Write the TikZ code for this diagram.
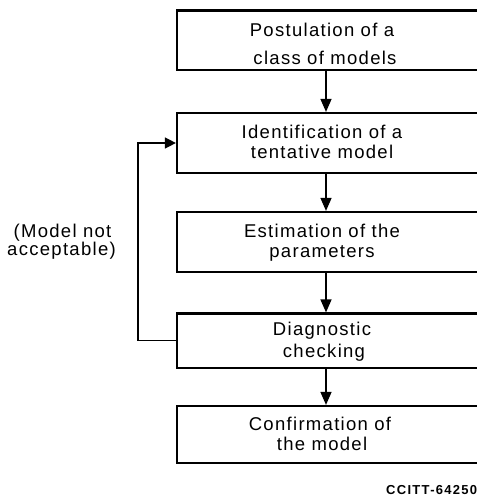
\documentclass[tikz,border=0pt]{standalone}
\usepackage{fontspec}
\setmainfont{Liberation Sans}[LetterSpace=7]
\newfontfamily\ccfont{Liberation Sans}[LetterSpace=10]
\usetikzlibrary{arrows.meta}
\begin{document}
\begin{tikzpicture}[x=1pt,y=-1pt,
  box/.style={draw, line width=2.2pt, minimum width=313pt, inner sep=0pt},
  lbl/.style={anchor=base, inner sep=0pt, font=\fontsize{18.5}{22}\selectfont},
  conn/.style={line width=1.4pt, -{Triangle[length=13pt,width=11pt]}}]
\useasboundingbox (0,0) rectangle (476,500);
% boxes
\node[box, minimum height=59.5pt] (b1) at (333.5,40.25) {};
\node[box, minimum height=60pt]   (b2) at (333.5,143) {};
\node[box, minimum height=60pt]   (b3) at (333.5,242) {};
\node[box, minimum height=54.5pt] (b4) at (333.5,340.75) {};
\node[box, minimum height=57pt]   (b5) at (333.5,434.5) {};
% box texts
\node[lbl] (t1a) at (322,37)  {Postulation of a};
\node[lbl] (t1b) at (325,65)  {class of models};
\node[lbl] (t2a) at (322,138) {Identification of a};
\node[lbl] (t2b) at (322,158) {tentative model};
\node[lbl] (t3a) at (322,237) {Estimation of the};
\node[lbl] (t3b) at (322,257) {parameters};
\node[lbl] (t4a) at (322,335) {Diagnostic};
\node[lbl] (t4b) at (324,357) {checking};
\node[lbl] (t5a) at (320,430) {Confirmation of};
\node[lbl] (t5b) at (322,450) {the model};
% side label
\node[lbl] (m1) at (62.5,237) {(Model not};
\node[lbl] (m2) at (61.5,255) {acceptable)};
% code
\node[anchor=base west, inner sep=0pt, font=\ccfont\bfseries\fontsize{13}{15}\selectfont] (cc) at (386,494) {CCITT-64250};
% connectors
\draw[conn] ([xshift=-7.5pt]b1.south) -- ([xshift=-7.5pt]b2.north);
\draw[conn] ([xshift=-7.5pt]b2.south) -- ([xshift=-7.5pt]b3.north);
\draw[conn] ([xshift=-7.5pt]b3.south) -- ([xshift=-7.5pt]b4.north);
\draw[conn] ([xshift=-7.5pt]b4.south) -- ([xshift=-7.5pt]b5.north);
\coordinate (fb) at (138,0);
\draw[line width=1.4pt, -{Triangle[length=11pt,width=11pt]}] (b4.west) -- (b4.west -| fb) |- (b2.west);
\end{tikzpicture}
\end{document}
